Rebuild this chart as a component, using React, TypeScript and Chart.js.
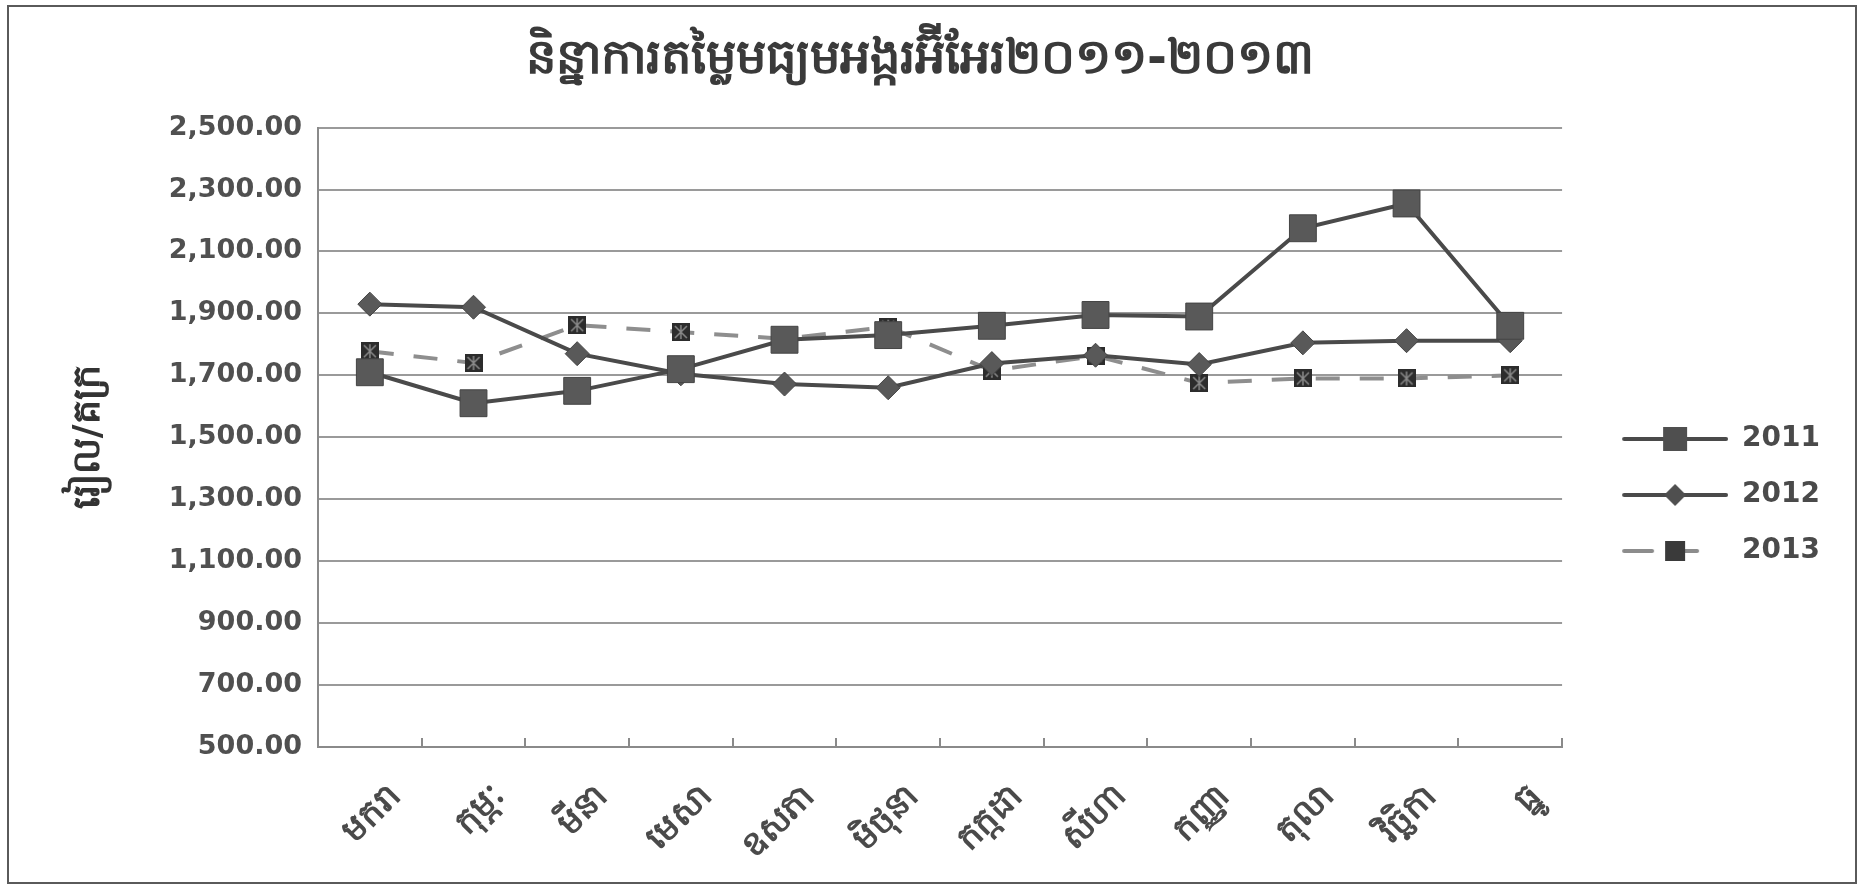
import React, { useEffect, useRef } from "react";
import { Chart, registerables } from "chart.js";

Chart.register(...registerables);

const chartTitle = "និន្នាការតម្លៃមធ្យមអង្ករអ៊ីអែរ២០១១-២០១៣";
const yAxisTitle = "រៀល/គក្រ";
const months = ["មករា", "កុម្ភៈ", "មីនា", "មេសា", "ឧសភា", "មិថុនា", "កក្កដា", "សីហា", "កញ្ញា", "តុលា", "វិច្ឆិកា", "ធ្នូ"];
const seriesNames = ["2011", "2012", "2013"];
const values2011 = [1710, 1610, 1650, 1720, 1815, 1830, 1860, 1895, 1890, 2175, 2255, 1860];
const values2012 = [1930, 1920, 1770, 1705, 1672, 1660, 1738, 1765, 1735, 1805, 1812, 1812];
const values2013 = [1778, 1740, 1862, 1840, 1818, 1857, 1715, 1763, 1675, 1690, 1690, 1700];
const yMin = 500;
const yMax = 2500;
const yStep = 200;

const W = 1865;
const H = 887;
const FONT = "'DejaVu Sans', Verdana, sans-serif";

function makeMarker2013(size: number) {
  const c = document.createElement("canvas");
  c.width = size;
  c.height = size;
  const g = c.getContext("2d")!;
  g.fillStyle = "#2c2c2c";
  g.fillRect(0, 0, size, size);
  g.strokeStyle = "#8a8a8a";
  g.lineWidth = 1.5;
  g.beginPath();
  g.moveTo(3, 3);
  g.lineTo(size - 3, size - 3);
  g.moveTo(size - 3, 3);
  g.lineTo(3, size - 3);
  g.moveTo(size / 2, 2);
  g.lineTo(size / 2, size - 2);
  g.stroke();
  return c;
}

const LEG_MARGIN = 32;
const LEG_LINE = 106;
const LEG_W = LEG_MARGIN + LEG_LINE;

function makeLegendImg(kind: number) {
  const w = LEG_W;
  const h = 28;
  const c = document.createElement("canvas");
  c.width = w;
  c.height = h;
  const g = c.getContext("2d")!;
  const x0 = LEG_MARGIN;
  const cx = x0 + LEG_LINE / 2;
  const cy = h / 2;
  g.lineCap = "round";
  if (kind === 2) {
    g.strokeStyle = "#8c8c8c";
    g.lineWidth = 4;
    g.beginPath();
    g.moveTo(x0 + 2, cy);
    g.lineTo(x0 + 30, cy);
    g.moveTo(cx + 8, cy);
    g.lineTo(cx + 22, cy);
    g.stroke();
    g.fillStyle = "#3a3a3a";
    g.fillRect(cx - 10, cy - 10, 20, 20);
  } else {
    g.strokeStyle = "#4a4a4a";
    g.lineWidth = 4;
    g.beginPath();
    g.moveTo(x0 + 2, cy);
    g.lineTo(w - 2, cy);
    g.stroke();
    g.fillStyle = "#4f4f4f";
    if (kind === 0) {
      g.fillRect(cx - 12, cy - 12, 24, 24);
    } else {
      g.beginPath();
      g.moveTo(cx, cy - 11);
      g.lineTo(cx + 11, cy);
      g.lineTo(cx, cy + 11);
      g.lineTo(cx - 11, cy);
      g.closePath();
      g.fill();
    }
  }
  return c;
}

const insideTicks = {
  id: "insideTicks",
  afterDraw(chart: any) {
    const xs = chart.scales.x;
    const ctx = chart.ctx;
    const bottom = chart.chartArea.bottom;
    ctx.save();
    ctx.strokeStyle = "#8a8a8a";
    ctx.lineWidth = 2;
    ctx.beginPath();
    for (let i = 1; i <= months.length; i++) {
      const x = Math.round(xs.getPixelForValue(i - 0.5));
      ctx.moveTo(x, bottom);
      ctx.lineTo(x, bottom - 9);
    }
    ctx.stroke();
    ctx.restore();
  },
};

export default function App() {
  const ref = useRef<HTMLCanvasElement | null>(null);

  useEffect(() => {
    if (!ref.current) return;
    const marker13 = makeMarker2013(18);
    const legendImgs = [makeLegendImg(0), makeLegendImg(1), makeLegendImg(2)];
    const chart = new Chart(ref.current, {
      type: "line",
      data: {
        labels: months,
        datasets: [
          {
            label: seriesNames[0],
            data: values2011,
            borderColor: "#4a4a4a",
            borderWidth: 4,
            pointStyle: "rect",
            pointRadius: 19,
            pointBackgroundColor: "#595959",
            pointBorderColor: "#444",
            pointBorderWidth: 1,
            tension: 0,
          },
          {
            label: seriesNames[1],
            data: values2012,
            borderColor: "#4a4a4a",
            borderWidth: 4,
            pointStyle: "rectRot",
            pointRadius: 12,
            pointBackgroundColor: "#595959",
            pointBorderColor: "#444",
            pointBorderWidth: 1,
            tension: 0,
          },
          {
            label: seriesNames[2],
            data: values2013,
            borderColor: "#8e8e8e",
            borderWidth: 4,
            borderDash: [24, 20],
            pointStyle: marker13 as any,
            pointRadius: 9,
            tension: 0,
          },
        ],
      },
      options: {
        animation: false,
        responsive: false,
        maintainAspectRatio: false,
        layout: { padding: { left: 10, right: 35, top: 5, bottom: 10 } },
        plugins: {
          tooltip: { enabled: false },
          title: {
            display: true,
            text: chartTitle,
            color: "#3a3a3a",
            font: { family: FONT, size: 48, weight: "bold" },
            padding: { top: 27, bottom: 38 },
          },
          legend: {
            position: "right",
            align: "center",
            title: { display: true, text: " ", font: { size: 10 }, padding: { top: 96, bottom: 0 } },
            labels: {
              usePointStyle: true,
              pointStyleWidth: LEG_W,
              boxHeight: 28,
              padding: 28,
              color: "#4a4a4a",
              font: { family: FONT, size: 28, weight: "bold" },
              generateLabels: (ch: any) =>
                ch.data.datasets.map((ds: any, i: number) => ({
                  text: ds.label,
                  pointStyle: legendImgs[i],
                  fillStyle: "transparent",
                  strokeStyle: "transparent",
                  lineWidth: 0,
                  hidden: false,
                  datasetIndex: i,
                  fontColor: "#4a4a4a",
                })),
            },
          },
        },
        scales: {
          x: {
            type: "category",
            offset: true,
            grid: { display: false },
            border: { display: true, color: "#8a8a8a", width: 2 },
            ticks: {
              autoSkip: false,
              minRotation: 45,
              maxRotation: 45,
              labelOffset: 26,
              padding: 22,
              color: "#4a4a4a",
              font: { family: FONT, size: 34, weight: "bold" },
            },
            afterFit: (s: any) => {
              s.height = 130;
            },
          },
          y: {
            min: yMin,
            max: yMax,
            grid: { color: "#9a9a9a", lineWidth: 2, drawTicks: false },
            border: { display: true, color: "#8a8a8a", width: 2 },
            ticks: {
              stepSize: yStep,
              padding: 16,
              color: "#505050",
              font: { family: FONT, size: 27, weight: "bold" },
              callback: (v: any) =>
                Number(v).toLocaleString("en-US", { minimumFractionDigits: 2, maximumFractionDigits: 2 }),
            },
            title: {
              display: true,
              text: yAxisTitle,
              color: "#333",
              font: { family: FONT, size: 38, weight: "bold" },
              padding: { top: 56, bottom: 0 },
            },
            afterFit: (s: any) => {
              s.width = 308;
            },
          },
        },
      },
      plugins: [insideTicks],
    });
    return () => chart.destroy();
  }, []);

  return (
    <div style={{ position: "fixed", left: 0, top: 0, width: W, height: H, background: "#fff" }}>
      <div
        style={{
          position: "absolute",
          left: 7,
          top: 5,
          width: 1846,
          height: 875,
          border: "2px solid #5a5a5a",
        }}
      />
      <canvas ref={ref} width={W} height={H} style={{ position: "absolute", left: 0, top: 0, width: W, height: H }} />
    </div>
  );
}
